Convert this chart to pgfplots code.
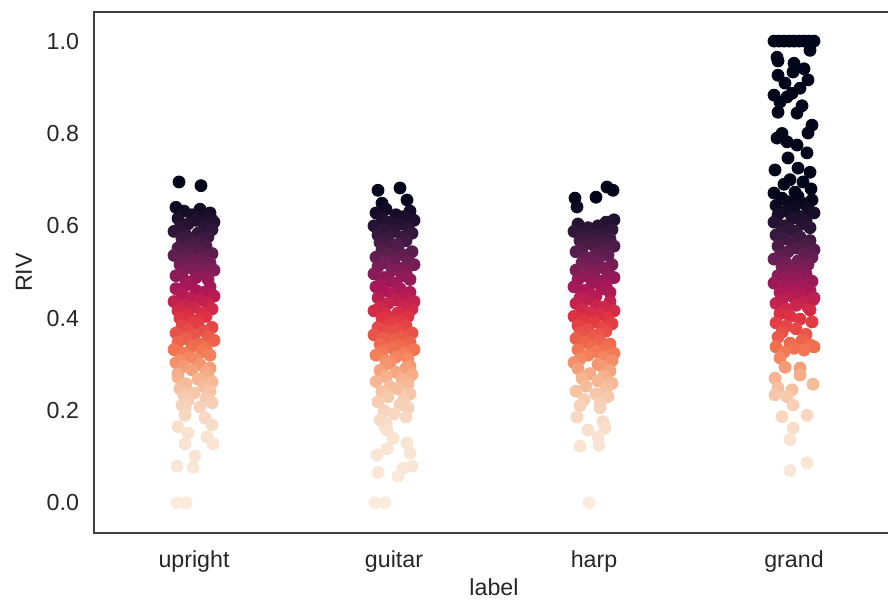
\documentclass[border=0pt]{standalone}
\usepackage{pgfplots}
\pgfplotsset{compat=1.18}
\usepackage{fontspec}
\setmainfont{Liberation Sans}
\usetikzlibrary{calc}
\definecolor{txt}{HTML}{262626}
\definecolor{spine}{HTML}{404040}
\begin{document}
\begin{tikzpicture}
\begin{axis}[name=ax, scale only axis, width=400pt, height=260.5pt,
  xmin=-0.5, xmax=3.5, ymin=-0.065, ymax=1.063,
  xtick={0,1,2,3}, xticklabels={upright,guitar,harp,grand},
  ytick={0,0.2,0.4,0.6,0.8,1.0},
  /pgf/number format/fixed, /pgf/number format/fixed zerofill, /pgf/number format/precision=1, /pgf/number format/assume math mode=true,
  major tick length=0pt,
  axis line style={draw=spine, line width=0.9pt},
  tick label style={font=\fontsize{11.6}{14}\selectfont, text=txt},
  yticklabel style={xshift=-4pt},
  xticklabel style={yshift=-5.5pt},
  label style={font=\fontsize{11.6}{14}\selectfont, text=txt},
  xlabel={label}, ylabel={RIV},
  xlabel style={at={(axis description cs:0.5,-0.1045)}, anchor=center},
  ylabel style={at={(axis description cs:-0.0875,0.5)}, anchor=center},
  colormap={rk}{rgb255(0pt)=(250,235,221) rgb255(15pt)=(249,226,208) rgb255(22pt)=(247,206,180) rgb255(27pt)=(246,180,143) rgb255(33pt)=(243,118,81) rgb255(40pt)=(225,51,66) rgb255(46pt)=(173,23,89) rgb255(52pt)=(112,31,87) rgb255(58pt)=(53,25,62) rgb255(66pt)=(3,5,26) rgb255(100pt)=(3,5,26)},
  point meta min=0, point meta max=1,
]
% upright
\addplot[scatter, only marks, mark=*, mark size=3pt, scatter src=y, scatter/use mapped color={draw=mapped color, fill=mapped color}] table {
x y
-0.075 0.695
0.035 0.687
0.09 0.613
-0.09 0.640
0.03 0.636
-0.05 0.632
0.08 0.628
-0.01 0.624
0.06 0.620
-0.08 0.616
0.01 0.612
0.10 0.608
-0.03 0.604
0.05 0.600
-0.07 0.596
0.09 0.592
-0.10 0.588
0.02 0.584
-0.04 0.580
0.07 0.576
-0.06 0.572
0.04 0.568
0.00 0.564
-0.02 0.560
0.06 0.556
-0.08 0.552
0.02 0.548
-0.03 0.544
0.09 0.540
-0.10 0.536
0.04 0.532
-0.05 0.528
0.00 0.524
0.08 0.520
-0.07 0.516
0.03 0.512
-0.01 0.508
0.10 0.504
-0.06 0.500
0.05 0.496
-0.09 0.492
0.01 0.488
0.07 0.484
-0.04 0.480
-0.02 0.476
-0.04 0.472
0.08 0.468
-0.09 0.464
0.01 0.460
0.05 0.456
-0.06 0.452
0.10 0.448
-0.02 0.444
0.03 0.440
-0.10 0.436
0.07 0.432
-0.05 0.428
0.00 0.424
0.09 0.420
-0.08 0.416
0.04 0.412
-0.03 0.408
0.06 0.404
-0.07 0.400
0.02 0.396
-0.01 0.392
0.02 0.388
-0.06 0.384
0.09 0.380
-0.03 0.376
0.05 0.372
-0.09 0.368
0.00 0.364
0.07 0.360
-0.04 0.356
0.10 0.352
-0.08 0.348
0.03 0.344
-0.01 0.340
0.06 0.336
-0.10 0.332
0.04 0.328
-0.05 0.324
0.08 0.320
-0.02 0.316
0.01 0.312
-0.07 0.308
-0.09 0.304
0.03 0.300
-0.05 0.296
0.08 0.292
-0.01 0.288
0.06 0.284
-0.08 0.280
0.07 0.276
-0.08 0.272
0.02 0.268
0.09 0.262
-0.04 0.258
0.05 0.252
-0.07 0.247
0.08 0.242
0.00 0.238
-0.05 0.232
0.06 0.227
-0.03 0.222
0.09 0.217
-0.06 0.212
0.03 0.208
-0.045 0.206
-0.045 0.190
0.055 0.184
0.09 0.169
-0.08 0.165
-0.03 0.151
0.065 0.143
-0.045 0.128
0.095 0.128
0.005 0.102
-0.085 0.080
-0.005 0.077
-0.085 0.000
-0.04 0.000
};
% guitar
\addplot[scatter, only marks, mark=*, mark size=3pt, scatter src=y, scatter/use mapped color={draw=mapped color, fill=mapped color}] table {
x y
0.92 0.677
1.03 0.682
1.065 0.656
0.94 0.649
0.96 0.636
1.08 0.632
0.91 0.628
1.01 0.624
1.05 0.620
0.94 0.616
1.10 0.612
0.98 0.608
1.03 0.604
0.90 0.600
1.07 0.596
0.95 0.592
1.00 0.588
1.09 0.584
0.92 0.580
1.04 0.576
0.97 0.572
1.06 0.568
0.93 0.564
1.02 0.560
0.99 0.556
1.02 0.552
0.94 0.548
1.09 0.544
0.97 0.540
1.05 0.536
0.91 0.532
1.00 0.528
1.07 0.524
0.96 0.520
1.10 0.516
0.92 0.512
1.03 0.508
0.99 0.504
1.06 0.500
0.90 0.496
1.04 0.492
0.95 0.488
1.08 0.484
0.98 0.480
1.01 0.476
0.93 0.472
0.91 0.468
1.03 0.464
0.95 0.460
1.08 0.456
0.99 0.452
1.06 0.448
0.92 0.444
1.01 0.440
1.10 0.436
0.97 0.432
1.05 0.428
0.93 0.424
1.09 0.420
0.90 0.416
1.02 0.412
0.96 0.408
1.07 0.404
0.94 0.400
1.04 0.396
1.00 0.392
0.98 0.388
1.06 0.384
0.92 0.380
1.02 0.376
0.97 0.372
1.09 0.368
0.90 0.364
1.04 0.360
0.95 0.356
1.00 0.352
1.08 0.348
0.93 0.344
1.03 0.340
0.99 0.336
1.10 0.332
0.94 0.328
1.05 0.324
0.91 0.320
1.01 0.316
1.07 0.312
0.96 0.308
0.98 0.304
0.96 0.300
1.08 0.296
1.06 0.292
0.93 0.287
1.01 0.283
1.09 0.278
0.96 0.273
1.04 0.268
0.91 0.263
1.07 0.258
0.98 0.252
1.02 0.247
0.94 0.241
1.08 0.236
0.97 0.230
1.05 0.225
0.92 0.219
1.03 0.213
1.07 0.206
0.95 0.200
1.00 0.193
1.06 0.186
0.93 0.180
0.96 0.172
0.955 0.165
0.965 0.158
0.995 0.140
1.065 0.130
0.965 0.117
1.08 0.108
0.915 0.104
1.09 0.080
1.045 0.075
0.92 0.066
1.02 0.058
0.905 0.000
0.955 0.000
};
% harp
\addplot[scatter, only marks, mark=*, mark size=3pt, scatter src=y, scatter/use mapped color={draw=mapped color, fill=mapped color}] table {
x y
1.905 0.660
1.915 0.641
2.01 0.662
2.065 0.684
2.095 0.677
2.10 0.613
2.06 0.608
1.92 0.604
2.02 0.600
1.97 0.596
2.09 0.592
1.90 0.588
2.04 0.584
1.95 0.580
2.00 0.576
2.08 0.572
1.93 0.568
2.03 0.564
1.99 0.560
2.10 0.556
1.94 0.552
2.05 0.548
1.91 0.544
2.01 0.540
2.07 0.536
1.96 0.532
1.98 0.528
2.02 0.524
1.94 0.520
2.09 0.516
1.97 0.512
2.05 0.508
1.91 0.504
2.00 0.500
2.07 0.496
1.96 0.492
2.10 0.488
1.92 0.484
2.03 0.480
1.99 0.476
2.06 0.472
1.90 0.468
2.04 0.464
1.95 0.460
2.08 0.456
1.98 0.452
2.01 0.448
1.93 0.444
1.96 0.440
2.08 0.436
1.91 0.432
2.01 0.428
2.05 0.424
1.94 0.420
2.10 0.416
1.98 0.412
2.03 0.408
1.90 0.404
2.07 0.400
1.95 0.396
2.00 0.392
2.09 0.388
1.92 0.384
2.04 0.380
1.97 0.376
2.06 0.372
1.93 0.368
2.02 0.364
1.99 0.360
1.91 0.356
2.03 0.352
1.95 0.348
2.08 0.344
1.99 0.340
2.06 0.336
1.92 0.332
2.01 0.328
2.10 0.324
1.97 0.320
2.05 0.316
1.93 0.312
2.09 0.308
1.90 0.304
2.02 0.300
2.04 0.296
1.92 0.291
2.08 0.286
1.98 0.280
2.05 0.275
1.94 0.270
2.02 0.264
2.09 0.259
1.96 0.253
2.06 0.247
1.91 0.242
2.01 0.236
2.07 0.230
1.95 0.224
2.03 0.217
1.93 0.211
2.03 0.206
1.915 0.186
2.045 0.176
2.055 0.162
1.97 0.158
2.02 0.143
1.93 0.123
2.025 0.125
1.975 0.000
};
% grand
\addplot[scatter, only marks, mark=*, mark size=3pt, scatter src=y, scatter/use mapped color={draw=mapped color, fill=mapped color}] table {
x y
2.90 1.000
2.925 1.000
2.95 1.000
2.975 1.000
3.00 1.000
3.025 1.000
3.05 1.000
3.075 1.000
3.10 1.000
3.08 0.980
2.915 0.965
2.92 0.957
3.00 0.952
3.05 0.940
2.995 0.933
2.92 0.926
2.955 0.909
3.07 0.916
3.03 0.898
2.90 0.883
2.99 0.887
2.93 0.868
2.965 0.879
3.04 0.860
2.92 0.846
3.015 0.844
3.09 0.818
3.07 0.801
2.94 0.800
2.915 0.790
2.965 0.782
3.015 0.775
2.97 0.747
3.065 0.758
2.905 0.721
3.02 0.725
3.08 0.716
2.98 0.700
3.045 0.695
2.95 0.690
3.085 0.680
3.005 0.673
2.90 0.671
3.02 0.664
2.94 0.660
3.09 0.656
2.97 0.652
3.05 0.648
2.91 0.644
3.00 0.640
3.07 0.636
2.96 0.632
3.10 0.628
2.92 0.624
3.03 0.620
2.99 0.616
3.06 0.612
2.90 0.608
3.04 0.604
2.95 0.600
3.08 0.596
2.98 0.592
3.01 0.588
2.93 0.584
2.91 0.580
3.03 0.576
2.95 0.572
3.08 0.568
2.99 0.564
3.06 0.560
2.92 0.556
3.01 0.552
3.10 0.548
2.97 0.544
3.05 0.540
2.93 0.536
3.09 0.532
2.90 0.528
3.02 0.524
2.96 0.520
3.07 0.516
2.94 0.512
3.04 0.508
3.00 0.504
2.98 0.500
3.06 0.496
2.92 0.492
3.02 0.488
2.97 0.484
3.09 0.480
2.90 0.476
3.04 0.472
2.95 0.468
3.00 0.464
3.08 0.460
2.93 0.456
3.03 0.452
2.99 0.448
3.10 0.444
2.94 0.440
3.05 0.436
2.91 0.432
3.01 0.428
3.07 0.424
2.96 0.420
3.095 0.440
3.08 0.418
3.09 0.392
2.93 0.410
2.98 0.404
3.03 0.398
2.91 0.390
2.96 0.383
3.01 0.377
2.94 0.370
3.06 0.365
2.92 0.359
3.04 0.352
2.98 0.346
3.08 0.342
2.91 0.338
3.00 0.335
3.10 0.338
3.05 0.331
2.95 0.327
2.93 0.314
2.955 0.294
3.03 0.292
3.03 0.277
2.905 0.270
3.095 0.257
2.92 0.249
2.99 0.245
2.905 0.234
2.965 0.230
2.995 0.212
2.94 0.187
3.065 0.190
2.995 0.162
2.98 0.137
3.065 0.087
2.98 0.070
};
\end{axis}
\pgfresetboundingbox
\path[use as bounding box] ($(ax.south west)+(-47pt,-33.5pt)$) rectangle ($(ax.north east)+(-3pt,6pt)$);
\end{tikzpicture}
\end{document}
